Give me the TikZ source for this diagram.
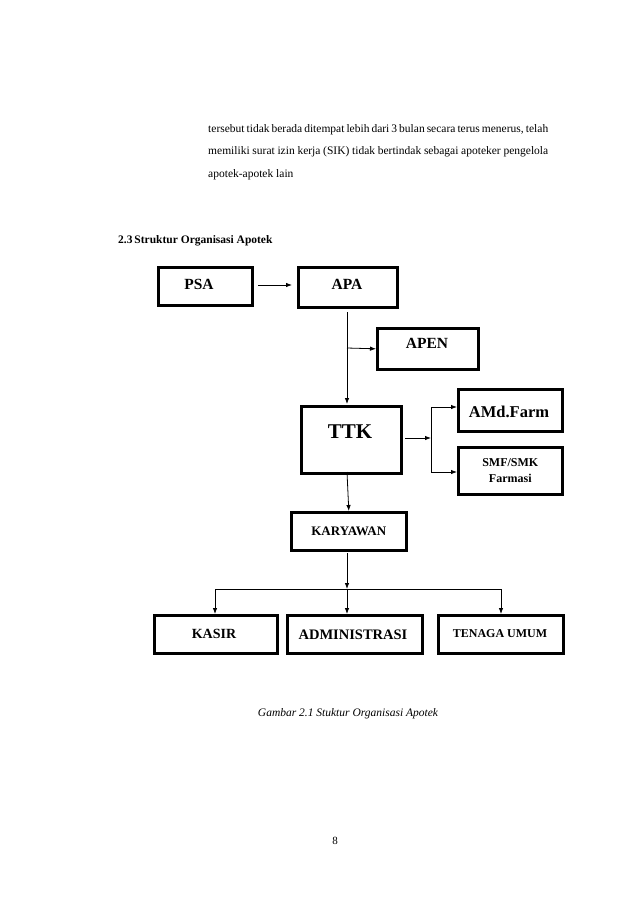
\documentclass[tikz,border=0pt]{standalone}
\usepackage{fontspec}
\setmainfont{Liberation Serif}
\usetikzlibrary{arrows.meta}
\begin{document}
\begin{tikzpicture}[x=1pt,y=-1pt,
  bx/.style={draw,line width=2.6pt,inner sep=0pt,font=\bfseries\fontsize{15}{17}\selectfont},
  ar/.style={line width=0.8pt,-{Latex[length=6pt,width=4.5pt]}},
  ln/.style={line width=0.8pt}]
\useasboundingbox (0,0) rectangle (638,903);
\node[anchor=north west,text width=340pt,align=justify,inner sep=0pt,font=\fontsize{11.5}{22.7}\selectfont] (para) at (208,124)
{tersebut tidak berada ditempat lebih dari 3 bulan secara terus menerus, telah memiliki surat izin kerja (SIK) tidak bertindak sebagai apoteker pengelola apotek-apotek lain};
\node[anchor=west,inner sep=0pt,font=\bfseries\fontsize{11.5}{13}\selectfont] (head) at (118,241) {2.3\,Struktur Organisasi Apotek};
\node[bx,minimum width=94pt,minimum height=38pt,anchor=north west] (psa) at (157,266) {};
\node[font=\bfseries\fontsize{15.5}{17}\selectfont] at (199,284) {PSA};
\node[bx,minimum width=99pt,minimum height=40pt,anchor=north west] (apa) at (297,266) {};
\node[font=\bfseries\fontsize{15.5}{17}\selectfont] at (347,284) {APA};
\node[bx,minimum width=101pt,minimum height=41pt,anchor=north west] (apen) at (376,327) {};
\node[font=\bfseries\fontsize{15.5}{17}\selectfont] at (427,343) {APEN};
\node[bx,minimum width=104pt,minimum height=42pt,anchor=north west] (amd) at (457,388) {};
\node[font=\bfseries\fontsize{16.5}{18}\selectfont] at (509,412) {AMd.Farm};
\node[bx,minimum width=104pt,minimum height=47pt,anchor=north west,align=center,font=\bfseries\fontsize{12}{16}\selectfont] (smf) at (457,446) {SMF/SMK\\Farmasi};
\node[bx,minimum width=100pt,minimum height=67pt,anchor=north west] (ttk) at (300,405) {};
\node[font=\bfseries\fontsize{21}{23}\selectfont] at (350,432) {TTK};
\node[bx,minimum width=115pt,minimum height=38pt,anchor=north west,font=\bfseries\fontsize{13}{15}\selectfont] (kar) at (290,511) {KARYAWAN};
\node[bx,minimum width=123pt,minimum height=38pt,anchor=north west] (kasir) at (153,614) {};
\node[font=\bfseries\fontsize{14}{16}\selectfont] at (214,634) {KASIR};
\node[bx,minimum width=135pt,minimum height=38pt,anchor=north west] (adm) at (286,614) {};
\node[font=\bfseries\fontsize{14.5}{16}\selectfont] at (353,635) {ADMINISTRASI};
\node[bx,minimum width=125pt,minimum height=38pt,anchor=north west] (ten) at (437,614) {};
\node[font=\bfseries\fontsize{12}{14}\selectfont] at (500,634) {TENAGA UMUM};
% connectors
\coordinate (p1) at (258,285);
\draw[ar] (p1) -- (292,285);
\draw[ar] (347,312) -- (347,404);
\coordinate (b1) at (347,348);
\draw[ar] (b1) -- (apen.west);
\coordinate (t1) at (405,438);
\coordinate (j1) at (431,438);
\draw[ar] (t1) -- (j1);
\draw[ln] (431,407) -- (431,472);
\draw[ar] (431,407) -- (amd.west |- 0,407);
\draw[ar] (431,472) -- (smf.west |- 0,472);
\draw[ar] (347,472) -- (kar.north);
\coordinate (h) at (347,589);
\draw[ar] (347,553) -- (h);
\draw[ln] (215,589) -- (501,589);
\draw[ar] (215,589) -- (215,614);
\draw[ar] (347,589) -- (347,614);
\draw[ar] (501,589) -- (501,614);
\node[font=\itshape\fontsize{11.5}{13}\selectfont] (cap) at (348,714) {Gambar 2.1 Stuktur Organisasi Apotek};
\node[font=\fontsize{11}{13}\selectfont] (pg) at (335,841) {8};
\end{tikzpicture}
\end{document}
